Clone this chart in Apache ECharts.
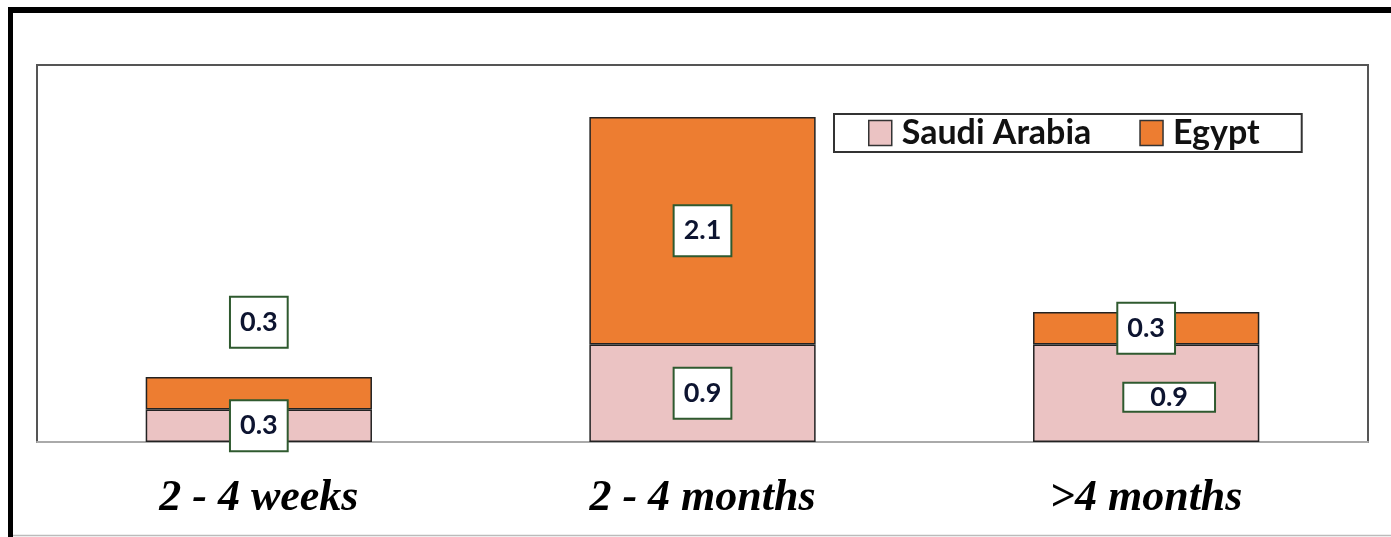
<!DOCTYPE html>
<html>
<head>
<meta charset="utf-8">
<script src="https://cdn.jsdelivr.net/npm/echarts@6/dist/echarts.min.js"></script>
<style>
  html, body { margin: 0; padding: 0; background: #fff; }
  #chart { width: 1391px; height: 537px; }
</style>
</head>
<body>
<div id="chart"></div>
<script>
const categories = ['2 - 4 weeks', '2 - 4 months', '>4 months']
const saudiValues = [0.3, 0.9, 0.9]
const egyptValues = [0.3, 2.1, 0.3]

const chart = echarts.init(document.getElementById('chart'))

const boxLabel = {
  show: true,
  position: 'inside',
  formatter: (p) => p.value.toFixed(1),
  fontFamily: 'Lato',
  fontWeight: 'bold',
  fontSize: 27,
  lineHeight: 27,
  color: '#0d1430',
  backgroundColor: '#fff',
  borderColor: '#2f5a2f',
  borderWidth: 2,
  padding: [11, 9, 11, 9]
}

const saudiData = saudiValues.map((v, i) => {
  if (i === 2) {
    return { value: v, label: { offset: [23, 4], padding: [0, 26, 0, 26] } }
  }
  return { value: v }
})

const egyptData = egyptValues.map((v, i) => {
  if (i === 0) {
    return { value: v, label: { offset: [0, -71] } }
  }
  return { value: v }
})

const option = {
  animation: false,
  grid: {
    left: 37,
    right: 23,
    top: 65,
    bottom: 95,
    show: true,
    borderColor: '#555',
    borderWidth: 2,
    containLabel: false
  },
  legend: {
    left: 834,
    top: 114,
    itemWidth: 23,
    itemHeight: 25,
    itemGap: 48,
    padding: [2, 42, 2, 34],
    borderColor: '#333',
    borderWidth: 2,
    backgroundColor: '#fff',
    icon: 'rect',
    textStyle: {
      fontFamily: 'Lato',
      fontWeight: 'bold',
      fontSize: 34,
      color: '#111',
      padding: [0, 0, 0, 5]
    },
    itemStyle: { borderColor: '#333', borderWidth: 1.5 },
    data: ['Saudi Arabia', 'Egypt']
  },
  xAxis: {
    type: 'category',
    data: categories,
    axisTick: { show: false },
    axisLine: { lineStyle: { color: '#aaa', width: 2 } },
    axisLabel: {
      margin: 35,
      fontFamily: 'Liberation Serif',
      fontStyle: 'italic',
      fontWeight: 'bold',
      fontSize: 44,
      lineHeight: 44,
      color: '#000'
    }
  },
  yAxis: {
    type: 'value',
    min: 0,
    max: 3.48,
    show: false,
    splitLine: { show: false }
  },
  series: [
    {
      name: 'Saudi Arabia',
      type: 'bar',
      stack: 'total',
      barWidth: '51%',
      data: saudiData,
      itemStyle: { color: '#ebc3c3', borderColor: '#222', borderWidth: 1.5 },
      label: boxLabel
    },
    {
      name: 'Egypt',
      type: 'bar',
      stack: 'total',
      data: egyptData,
      itemStyle: { color: '#ed7d31', borderColor: '#222', borderWidth: 1.5 },
      label: boxLabel
    }
  ],
  graphic: [
    { type: 'rect', silent: true, shape: { x: 8, y: 7, width: 1383, height: 6 }, style: { fill: '#000' } },
    { type: 'rect', silent: true, shape: { x: 8, y: 7, width: 5, height: 530 }, style: { fill: '#000' } },
    { type: 'line', silent: true, shape: { x1: 13, y1: 535.5, x2: 1391, y2: 535.5 }, style: { stroke: '#bbb', lineWidth: 1.5 } }
  ]
}

chart.setOption(option)
</script>
</body>
</html>
